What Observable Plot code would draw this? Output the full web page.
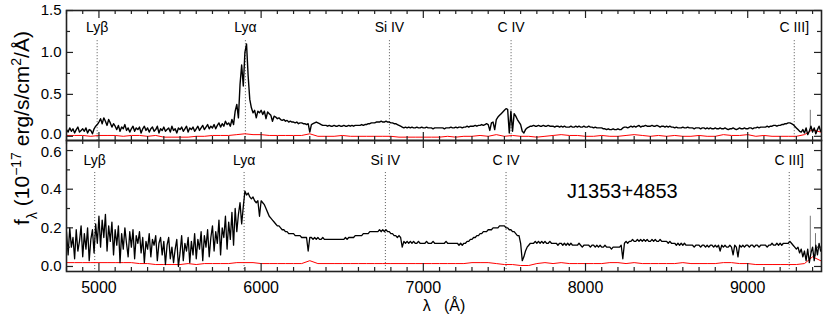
<!DOCTYPE html>
<html><head><meta charset="utf-8">
<script src="https://cdn.jsdelivr.net/npm/d3@7"></script>
<script src="https://cdn.jsdelivr.net/npm/@observablehq/plot@0.6"></script>
<style>
html,body{margin:0;padding:0;background:#fff;}
#chart{position:relative;width:830px;height:320px;font-family:"Liberation Sans",Arial,Helvetica,sans-serif;}
#chart svg{overflow:visible;}
.panel{position:absolute;left:0;}
</style></head><body><div id="chart"></div>
<script>
// ---- data ----
const lambdaStart = 4800;   // Å, first sample
const lambdaStep = 10;      // Å between samples
const topFlux = [
0.08,0.05,0.10,0.06,0.09,0.04,0.08,0.11,0.05,0.07,
0.09,0.06,0.10,0.04,0.08,0.07,0.03,0.09,0.12,0.14,
0.17,0.21,0.15,0.22,0.18,0.13,0.20,0.16,0.11,0.15,
0.12,0.08,0.13,0.06,0.11,0.09,0.14,0.07,0.10,0.05,
0.09,0.12,0.06,0.10,0.08,0.11,0.04,0.09,0.12,0.07,
0.10,0.05,0.09,0.11,0.06,0.08,0.12,0.04,0.09,0.07,
0.11,0.06,0.08,0.10,0.05,0.12,0.07,0.09,0.04,0.10,
0.08,0.11,0.06,0.09,0.12,0.05,0.10,0.08,0.11,0.06,
0.09,0.12,0.07,0.10,0.13,0.08,0.11,0.14,0.09,0.12,
0.10,0.14,0.09,0.13,0.16,0.11,0.15,0.12,0.18,0.14,
0.16,0.12,0.20,0.14,0.30,0.38,0.22,0.62,0.85,0.60,
1.00,1.10,0.72,0.44,0.34,0.28,0.31,0.22,0.30,0.28,
0.31,0.26,0.30,0.21,0.29,0.27,0.25,0.18,0.24,0.23,
0.21,0.22,0.20,0.19,0.20,0.18,0.19,0.17,0.18,0.17,
0.17,0.16,0.17,0.15,0.16,0.16,0.15,0.15,0.14,0.15,
0.05,0.14,0.15,0.16,0.17,0.16,0.15,0.14,0.13,0.13,
0.13,0.12,0.13,0.12,0.12,0.13,0.12,0.12,0.13,0.12,
0.12,0.13,0.12,0.12,0.13,0.12,0.13,0.12,0.13,0.13,
0.13,0.13,0.14,0.13,0.14,0.14,0.15,0.15,0.16,0.16,
0.16,0.17,0.17,0.17,0.18,0.17,0.17,0.18,0.17,0.17,
0.16,0.16,0.15,0.15,0.14,0.13,0.12,0.11,0.10,0.11,
0.10,0.11,0.10,0.11,0.10,0.10,0.11,0.10,0.10,0.11,
0.10,0.10,0.11,0.10,0.10,0.10,0.09,0.10,0.10,0.10,
0.10,0.10,0.10,0.09,0.10,0.10,0.10,0.11,0.10,0.10,
0.11,0.10,0.11,0.11,0.10,0.11,0.11,0.12,0.11,0.12,
0.12,0.12,0.13,0.12,0.13,0.13,0.14,0.13,0.14,0.15,
0.14,0.07,0.16,0.17,0.08,0.20,0.23,0.25,0.27,0.29,
0.31,0.33,0.32,0.04,0.30,0.06,0.27,0.24,0.20,0.17,
0.14,0.06,0.04,0.08,0.10,0.11,0.12,0.12,0.13,0.12,
0.12,0.13,0.12,0.12,0.13,0.12,0.12,0.13,0.12,0.12,
0.12,0.11,0.12,0.12,0.11,0.12,0.11,0.12,0.11,0.11,
0.11,0.12,0.11,0.11,0.12,0.11,0.12,0.11,0.11,0.12,
0.11,0.11,0.12,0.11,0.11,0.10,0.11,0.10,0.10,0.10,
0.10,0.09,0.09,0.08,0.09,0.08,0.08,0.09,0.08,0.08,
0.09,0.08,0.08,0.10,0.11,0.11,0.10,0.11,0.12,0.11,
0.12,0.11,0.12,0.13,0.11,0.12,0.12,0.13,0.12,0.12,
0.12,0.13,0.12,0.12,0.13,0.12,0.11,0.12,0.12,0.11,
0.12,0.11,0.12,0.11,0.11,0.10,0.11,0.10,0.10,0.10,
0.11,0.10,0.10,0.11,0.10,0.10,0.10,0.09,0.10,0.10,
0.10,0.09,0.10,0.10,0.09,0.10,0.09,0.10,0.09,0.09,
0.10,0.09,0.09,0.10,0.09,0.09,0.10,0.09,0.08,0.09,
0.09,0.10,0.09,0.08,0.09,0.10,0.09,0.09,0.10,0.09,
0.09,0.10,0.10,0.09,0.10,0.10,0.11,0.10,0.11,0.11,
0.11,0.11,0.12,0.11,0.12,0.12,0.13,0.13,0.12,0.13,
0.13,0.14,0.14,0.15,0.15,0.16,0.16,0.15,0.14,0.12,
0.10,0.08,0.06,0.05,0.08,0.04,0.10,0.02,0.06,0.12,
0.05,0.10,0.03,0.08,0.12,0.06
];
const bottomFlux = [
0.18,0.06,0.20,0.10,0.15,0.04,0.19,0.08,0.13,0.21,
0.05,0.17,0.09,0.20,0.03,0.14,0.19,0.07,0.22,0.12,
0.26,0.10,0.24,0.15,0.27,0.08,0.21,0.13,0.23,0.06,
0.19,0.11,0.21,0.02,0.17,0.09,0.20,0.12,0.05,0.18,
0.10,0.19,0.04,0.16,0.12,0.18,0.07,0.15,0.02,0.13,
0.09,0.17,0.05,0.14,0.11,0.16,0.03,0.12,0.15,0.06,
0.13,0.01,0.11,0.15,0.04,0.10,0.02,0.09,0.14,0.00,
0.07,0.16,0.03,0.12,0.08,0.15,0.02,0.13,0.06,0.17,
0.04,0.14,0.09,0.18,0.03,0.16,0.10,0.19,0.05,0.15,
0.21,0.08,0.18,0.12,0.24,0.06,0.20,0.15,0.26,0.09,
0.23,0.14,0.28,0.11,0.30,0.18,0.27,0.33,0.22,0.31,
0.39,0.37,0.38,0.36,0.35,0.36,0.34,0.33,0.34,0.26,
0.34,0.33,0.32,0.30,0.28,0.26,0.25,0.24,0.23,0.22,
0.21,0.21,0.20,0.19,0.19,0.18,0.18,0.17,0.17,0.17,
0.17,0.16,0.16,0.16,0.16,0.15,0.15,0.15,0.15,0.08,
0.15,0.15,0.14,0.15,0.14,0.15,0.14,0.14,0.15,0.14,
0.14,0.14,0.14,0.14,0.14,0.14,0.14,0.14,0.14,0.14,
0.14,0.14,0.15,0.14,0.15,0.15,0.15,0.15,0.16,0.16,
0.16,0.16,0.16,0.17,0.17,0.17,0.17,0.18,0.18,0.18,
0.18,0.18,0.18,0.19,0.18,0.19,0.18,0.19,0.18,0.18,
0.17,0.17,0.16,0.16,0.15,0.16,0.15,0.10,0.13,0.12,
0.13,0.12,0.13,0.12,0.13,0.12,0.12,0.13,0.12,0.12,
0.12,0.12,0.13,0.12,0.12,0.12,0.13,0.12,0.12,0.12,
0.12,0.12,0.12,0.12,0.13,0.12,0.12,0.12,0.12,0.12,
0.12,0.12,0.11,0.12,0.11,0.12,0.12,0.13,0.13,0.14,
0.14,0.15,0.15,0.16,0.16,0.17,0.17,0.18,0.18,0.18,
0.19,0.19,0.19,0.20,0.20,0.20,0.20,0.21,0.21,0.21,
0.21,0.20,0.20,0.19,0.19,0.18,0.18,0.17,0.16,0.16,
0.12,0.03,0.05,0.08,0.10,0.11,0.12,0.12,0.12,0.13,
0.12,0.13,0.12,0.13,0.12,0.13,0.12,0.12,0.13,0.12,
0.12,0.12,0.12,0.11,0.12,0.12,0.11,0.12,0.11,0.12,
0.11,0.12,0.11,0.11,0.11,0.11,0.12,0.11,0.10,0.11,
0.11,0.11,0.11,0.10,0.11,0.11,0.10,0.11,0.10,0.11,
0.10,0.10,0.11,0.10,0.10,0.10,0.09,0.10,0.10,0.10,
0.10,0.10,0.11,0.04,0.12,0.13,0.12,0.13,0.13,0.14,
0.13,0.13,0.14,0.13,0.14,0.13,0.14,0.13,0.14,0.13,
0.13,0.14,0.13,0.14,0.13,0.13,0.14,0.13,0.13,0.13,
0.13,0.12,0.13,0.12,0.12,0.12,0.11,0.12,0.11,0.12,
0.11,0.12,0.11,0.11,0.11,0.11,0.11,0.10,0.11,0.11,
0.11,0.10,0.11,0.11,0.10,0.11,0.10,0.11,0.11,0.10,
0.11,0.10,0.11,0.08,0.11,0.10,0.11,0.10,0.10,0.11,
0.10,0.06,0.11,0.10,0.05,0.11,0.10,0.11,0.10,0.11,
0.11,0.10,0.11,0.11,0.10,0.11,0.11,0.10,0.11,0.11,
0.11,0.11,0.10,0.11,0.11,0.12,0.11,0.11,0.12,0.11,
0.12,0.11,0.12,0.12,0.12,0.12,0.13,0.12,0.11,0.10,
0.09,0.10,0.07,0.09,0.05,0.08,0.03,0.09,0.02,0.07,
0.10,0.03,0.11,0.06,0.12,0.08
];
const noiseStart = 4800;  // Å
const noiseStep = 50;     // Å
const topNoise = [
0.01,0.01,0.01,0.00,0.01,0.01,0.01,0.00,0.01,0.01,
0.00,0.01,-0.01,-0.01,-0.01,-0.01,0.00,0.00,0.01,0.01,
0.01,0.02,0.03,0.02,0.02,0.01,0.01,0.01,0.01,0.01,
0.03,0.00,0.00,0.00,0.01,0.00,0.00,0.00,0.00,0.00,
0.00,-0.01,-0.01,-0.01,-0.01,-0.01,-0.01,0.00,-0.01,0.00,
0.00,0.01,0.00,0.02,0.00,0.01,0.00,0.00,-0.01,0.00,
0.01,0.02,0.01,0.01,0.00,0.00,0.01,0.00,0.00,0.01,
0.02,0.01,0.00,0.01,0.00,0.01,0.00,0.00,0.01,0.00,
0.00,0.02,0.01,0.01,0.02,0.00,0.01,0.00,0.00,0.00,
0.00,0.02,0.08,0.05
];
const bottomNoise = [
0.02,0.02,0.02,0.02,0.02,0.02,0.02,0.02,0.02,0.015,
0.015,0.01,0.01,0.01,0.01,0.015,0.01,0.015,0.015,0.015,
0.015,0.02,0.02,0.02,0.015,0.015,0.015,0.015,0.015,0.015,
0.03,0.015,0.015,0.015,0.015,0.015,0.015,0.015,0.015,0.015,
0.015,0.015,0.015,0.015,0.015,0.015,0.015,0.015,0.015,0.015,
0.02,0.02,0.02,0.015,0.01,0.01,0.005,0.005,0.015,0.02,
0.015,0.02,0.015,0.015,0.015,0.015,0.015,0.02,0.02,0.015,
0.02,0.015,0.015,0.015,0.015,0.015,0.02,0.015,0.015,0.015,
0.015,0.02,0.02,0.015,0.015,0.01,0.01,0.01,0.01,0.01,
0.01,0.015,0.05,0.03
];
const lineNames = ["Lyβ", "Lyα", "Si IV", "C IV", "C III]"];
const topLineWave = [4989, 5903, 6791, 7541, 9287];
const bottomLineWave = [4974, 5895, 6766, 7510, 9256];
const topSpikeWave = [9386], topSpikeLow = [0.10], topSpikeHigh = [0.31];
const bottomSpikeWave = [9386, 9418], bottomSpikeLow = [0.07, 0.05], bottomSpikeHigh = [0.26, 0.17];
const xMajorTicks = [5000, 6000, 7000, 8000, 9000];
const xMinorTicks = [4800,4900,5100,5200,5300,5400,5500,5600,5700,5800,5900,6100,6200,6300,6400,6500,6600,6700,6800,6900,7100,7200,7300,7400,7500,7600,7700,7800,7900,8100,8200,8300,8400,8500,8600,8700,8800,8900,9100,9200,9300,9400];
const topYMajor = [0.0, 0.5, 1.0, 1.5], topYMinor = [0.25, 0.75, 1.25];
const bottomYMajor = [0.0, 0.2, 0.4, 0.6], bottomYMinor = [0.1, 0.3, 0.5];
const objectName = "J1353+4853";
const xLabel = "λ\u00a0\u00a0\u00a0(Å)";

// ---- build tables ----
const spec = (arr, s0, ds) => arr.map((f, i) => ({w: s0 + i * ds, f}));
const topData = spec(topFlux, lambdaStart, lambdaStep);
const botData = spec(bottomFlux, lambdaStart, lambdaStep);
const topNoiseData = spec(topNoise, noiseStart, noiseStep);
const botNoiseData = spec(bottomNoise, noiseStart, noiseStep);
const topLines = lineNames.map((n, i) => ({name: n, w: topLineWave[i]}));
const botLines = lineNames.map((n, i) => ({name: n, w: bottomLineWave[i]}));
const topSpikes = topSpikeWave.map((w, i) => ({w, lo: topSpikeLow[i], hi: topSpikeHigh[i]}));
const botSpikes = bottomSpikeWave.map((w, i) => ({w, lo: bottomSpikeLow[i], hi: bottomSpikeHigh[i]}));

const W = 830, ML = 66, MR = 9, PW = W - ML - MR;
const XDOM = [4800, 9455];
const FONT = '"Liberation Sans", Arial, Helvetica, sans-serif';
const FC = "#222";
const fmt1 = d3.format(".1f");

function edgeTicks(ph, yMaj, yMin) {
  const o = {stroke: FC, strokeWidth: 1.2};
  return [
    Plot.tickX(xMajorTicks, {x: d => d, insetTop: ph - 8, ...o}),
    Plot.tickX(xMajorTicks, {x: d => d, insetBottom: ph - 8, ...o}),
    Plot.tickX(xMinorTicks, {x: d => d, insetTop: ph - 4, ...o}),
    Plot.tickX(xMinorTicks, {x: d => d, insetBottom: ph - 4, ...o}),
    Plot.tickY(yMaj, {y: d => d, insetRight: PW - 7, ...o}),
    Plot.tickY(yMaj, {y: d => d, insetLeft: PW - 7, ...o}),
    Plot.tickY(yMin, {y: d => d, insetRight: PW - 4, ...o}),
    Plot.tickY(yMin, {y: d => d, insetLeft: PW - 4, ...o})
  ];
}

const topPlot = Plot.plot({
  width: W, height: 140, marginLeft: ML, marginRight: MR, marginTop: 10, marginBottom: 0,
  x: {domain: XDOM, axis: null},
  y: {domain: [-0.05, 1.5]},
  style: {fontFamily: FONT, fontSize: "16px", color: "#000", background: "transparent", overflow: "visible"},
  marks: [
    Plot.ruleX(topLines, {x: "w", y1: 1.14, y2: -0.05, stroke: "#555", strokeWidth: 1, strokeDasharray: "1,2"}),
    Plot.text(topLines, {x: "w", y: 1.30, text: "name", fontSize: 14, fill: "#000"}),
    Plot.line(topNoiseData, {x: "w", y: "f", stroke: "#ff0000", strokeWidth: 1, clip: true}),
    Plot.ruleX(topSpikes, {x: "w", y1: "lo", y2: "hi", stroke: "#777", strokeWidth: 1}),
    Plot.line(topData, {x: "w", y: "f", stroke: "#000", strokeWidth: 1.4, clip: true}),
    Plot.axisY({ticks: topYMajor.slice(1), tickSize: 0, tickPadding: 5, tickFormat: fmt1, fontSize: 15, label: null}),
    Plot.axisY({ticks: topYMajor.slice(0, 1), tickSize: 0, tickPadding: 5, tickFormat: fmt1, fontSize: 15, dy: -2, label: null}),
    ...edgeTicks(130, topYMajor, topYMinor),
    Plot.frame({stroke: FC, strokeWidth: 1.6})
  ]
});

const botPlot = Plot.plot({
  width: W, height: 180, marginLeft: ML, marginRight: MR, marginTop: 0, marginBottom: 49,
  x: {domain: XDOM},
  y: {domain: [-0.026, 0.652]},
  style: {fontFamily: FONT, fontSize: "16px", color: "#000", background: "transparent", overflow: "visible"},
  marks: [
    Plot.ruleX(botLines, {x: "w", y1: 0.486, y2: -0.026, stroke: "#555", strokeWidth: 1, strokeDasharray: "1,2"}),
    Plot.text(botLines, {x: "w", y: 0.548, text: "name", fontSize: 14, fill: "#000"}),
    Plot.text([objectName], {x: 8227, y: 0.388, text: d => d, fontSize: 20, fill: "#000"}),
    Plot.line(botNoiseData, {x: "w", y: "f", stroke: "#ff0000", strokeWidth: 1, clip: true}),
    Plot.ruleX(botSpikes, {x: "w", y1: "lo", y2: "hi", stroke: "#777", strokeWidth: 1}),
    Plot.line(botData, {x: "w", y: "f", stroke: "#000", strokeWidth: 1.3, clip: true}),
    Plot.axisY({ticks: bottomYMajor.slice(0, 3), tickSize: 0, tickPadding: 5, tickFormat: fmt1, fontSize: 15, label: null}),
    Plot.axisY({ticks: bottomYMajor.slice(3), tickSize: 0, tickPadding: 5, tickFormat: fmt1, fontSize: 15, dy: 2, label: null}),
    Plot.axisX({ticks: xMajorTicks, tickSize: 0, tickPadding: 10, tickFormat: d => String(d), label: null}),
    Plot.text([xLabel], {frameAnchor: "bottom", dy: 39, text: d => d, fontSize: 16, fill: "#000"}),
    ...edgeTicks(131, bottomYMajor, bottomYMinor),
    Plot.frame({stroke: FC, strokeWidth: 1.6})
  ]
});

const chart = document.getElementById("chart");
topPlot.classList.add("panel"); topPlot.style.top = "0px";
botPlot.classList.add("panel"); botPlot.style.top = "140px";
chart.appendChild(topPlot);
chart.appendChild(botPlot);

// shared y-axis title spanning both panels
const ns = "http://www.w3.org/2000/svg";
const ylab = document.createElementNS(ns, "svg");
ylab.setAttribute("width", "44"); ylab.setAttribute("height", "320");
ylab.setAttribute("class", "panel"); ylab.style.top = "0px";
ylab.innerHTML = `<text transform="translate(29,128) rotate(-90)" text-anchor="middle" font-size="21" font-family='${FONT}' fill="#000">f<tspan baseline-shift="sub" font-size="14">λ</tspan> (10<tspan baseline-shift="super" font-size="14">−17</tspan> erg/s/cm<tspan baseline-shift="super" font-size="14">2</tspan>/Å)</text>`;
chart.appendChild(ylab);
</script></body></html>
